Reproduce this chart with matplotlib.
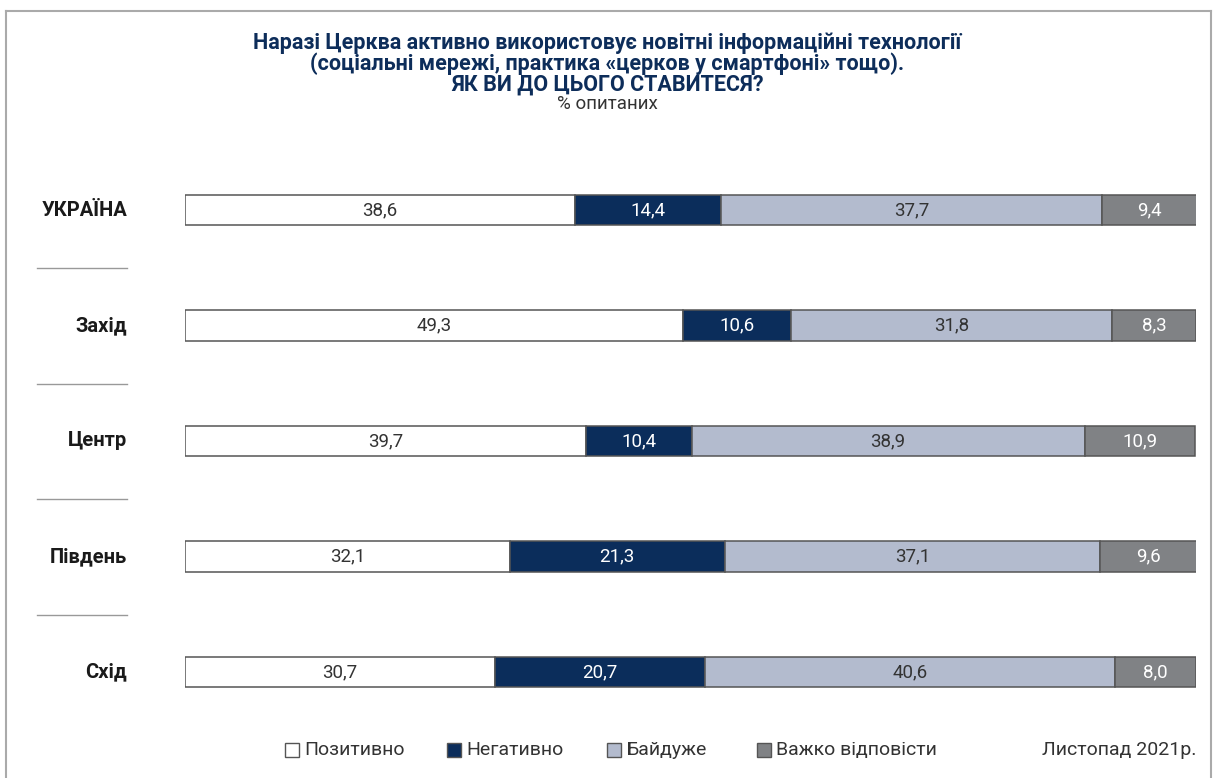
import matplotlib
matplotlib.use("Agg")
import matplotlib.pyplot as plt
from matplotlib.patches import Rectangle
from matplotlib.lines import Line2D

plt.rcParams['font.family'] = ['Roboto', 'DejaVu Sans']

regions = ["УКРАЇНА", "Захід", "Центр", "Південь", "Схід"]
positive = [38.6, 49.3, 39.7, 32.1, 30.7]
negative = [14.4, 10.6, 10.4, 21.3, 20.7]
indifferent = [37.7, 31.8, 38.9, 37.1, 40.6]
hard = [9.4, 8.3, 10.9, 9.6, 8.0]
series_names = ["Позитивно", "Негативно", "Байдуже", "Важко відповісти"]
colors = ["#ffffff", "#0b2d5b", "#b3bbce", "#808285"]
text_colors = ["#333333", "#ffffff", "#333333", "#ffffff"]

title_lines = ["Наразі Церква активно використовує новітні інформаційні технології",
               "(соціальні мережі, практика «церков у смартфоні» тощо).",
               "ЯК ВИ ДО ЦЬОГО СТАВИТЕСЯ?"]
subtitle = "% опитаних"
note = "Листопад 2021р."

W, H = 1215, 778
fig = plt.figure(figsize=(W / 100, H / 100), dpi=100)

def fx(px):
    return px / W

def fy(py):
    return 1 - py / H

# axes: x 185..1196, y rows centred at 210..672
top, bottom = 152.25, 729.75
ax = fig.add_axes([fx(185), fy(bottom), fx(1196) - fx(185), (bottom - top) / H])
ax.set_xlim(0, 100)
ax.set_ylim(len(regions) - 0.5, -0.5)
ax.axis('off')

ypos = list(range(len(regions)))
left = [0.0] * len(regions)
for vals, c, tc in zip([positive, negative, indifferent, hard], colors, text_colors):
    ax.barh(ypos, vals, left=left, height=0.26, color=c, edgecolor="#555555", linewidth=1.1)
    for i, v in enumerate(vals):
        ax.text(left[i] + v / 2, i, f"{v:.1f}".replace('.', ','), ha='center', va='center',
                fontsize=13.5, color=tc)
    left = [l + v for l, v in zip(left, vals)]

# category labels and separators
for i, r in enumerate(regions):
    yc = 210 + i * 115.5
    fig.text(fx(127), fy(yc), r, ha='right', va='center', fontsize=14.5, fontweight='bold', color='#1a1a1a')
    if i < len(regions) - 1:
        ys = fy(yc + 58)
        fig.add_artist(Line2D([fx(37), fx(127)], [ys, ys], color='#999999', lw=1))

# title (one multi-line text)
title_color = '#0d2d5a'
fig.text(0.5, fy(64), "\n".join(title_lines), ha='center', va='center', fontsize=15.5,
         fontweight='bold', color=title_color, linespacing=0.92, multialignment='center')
fig.text(0.5, fy(104), subtitle, ha='center', va='center', fontsize=13.5, color='#333333')

# legend
leg_x = [285, 447, 607, 757]
for x0, name, c in zip(leg_x, series_names, colors):
    fig.add_artist(Rectangle((fx(x0), fy(757)), fx(14), 14 / H, facecolor=c,
                             edgecolor='#555555', lw=1, transform=fig.transFigure))
    fig.text(fx(x0 + 19), fy(750), name, ha='left', va='center', fontsize=14, color='#333333')
fig.text(fx(1197), fy(750), note, ha='right', va='center', fontsize=14, color='#333333')

# frame
fig.add_artist(Line2D([fx(6), fx(6)], [fy(11), 0], color='#aaaaaa', lw=1.5))
fig.add_artist(Line2D([fx(6), fx(1211)], [fy(11), fy(11)], color='#aaaaaa', lw=1.5))
fig.add_artist(Line2D([fx(1211), fx(1211)], [fy(11), 0], color='#aaaaaa', lw=1.5))

fig.savefig("out.png", dpi=100, facecolor='white')
